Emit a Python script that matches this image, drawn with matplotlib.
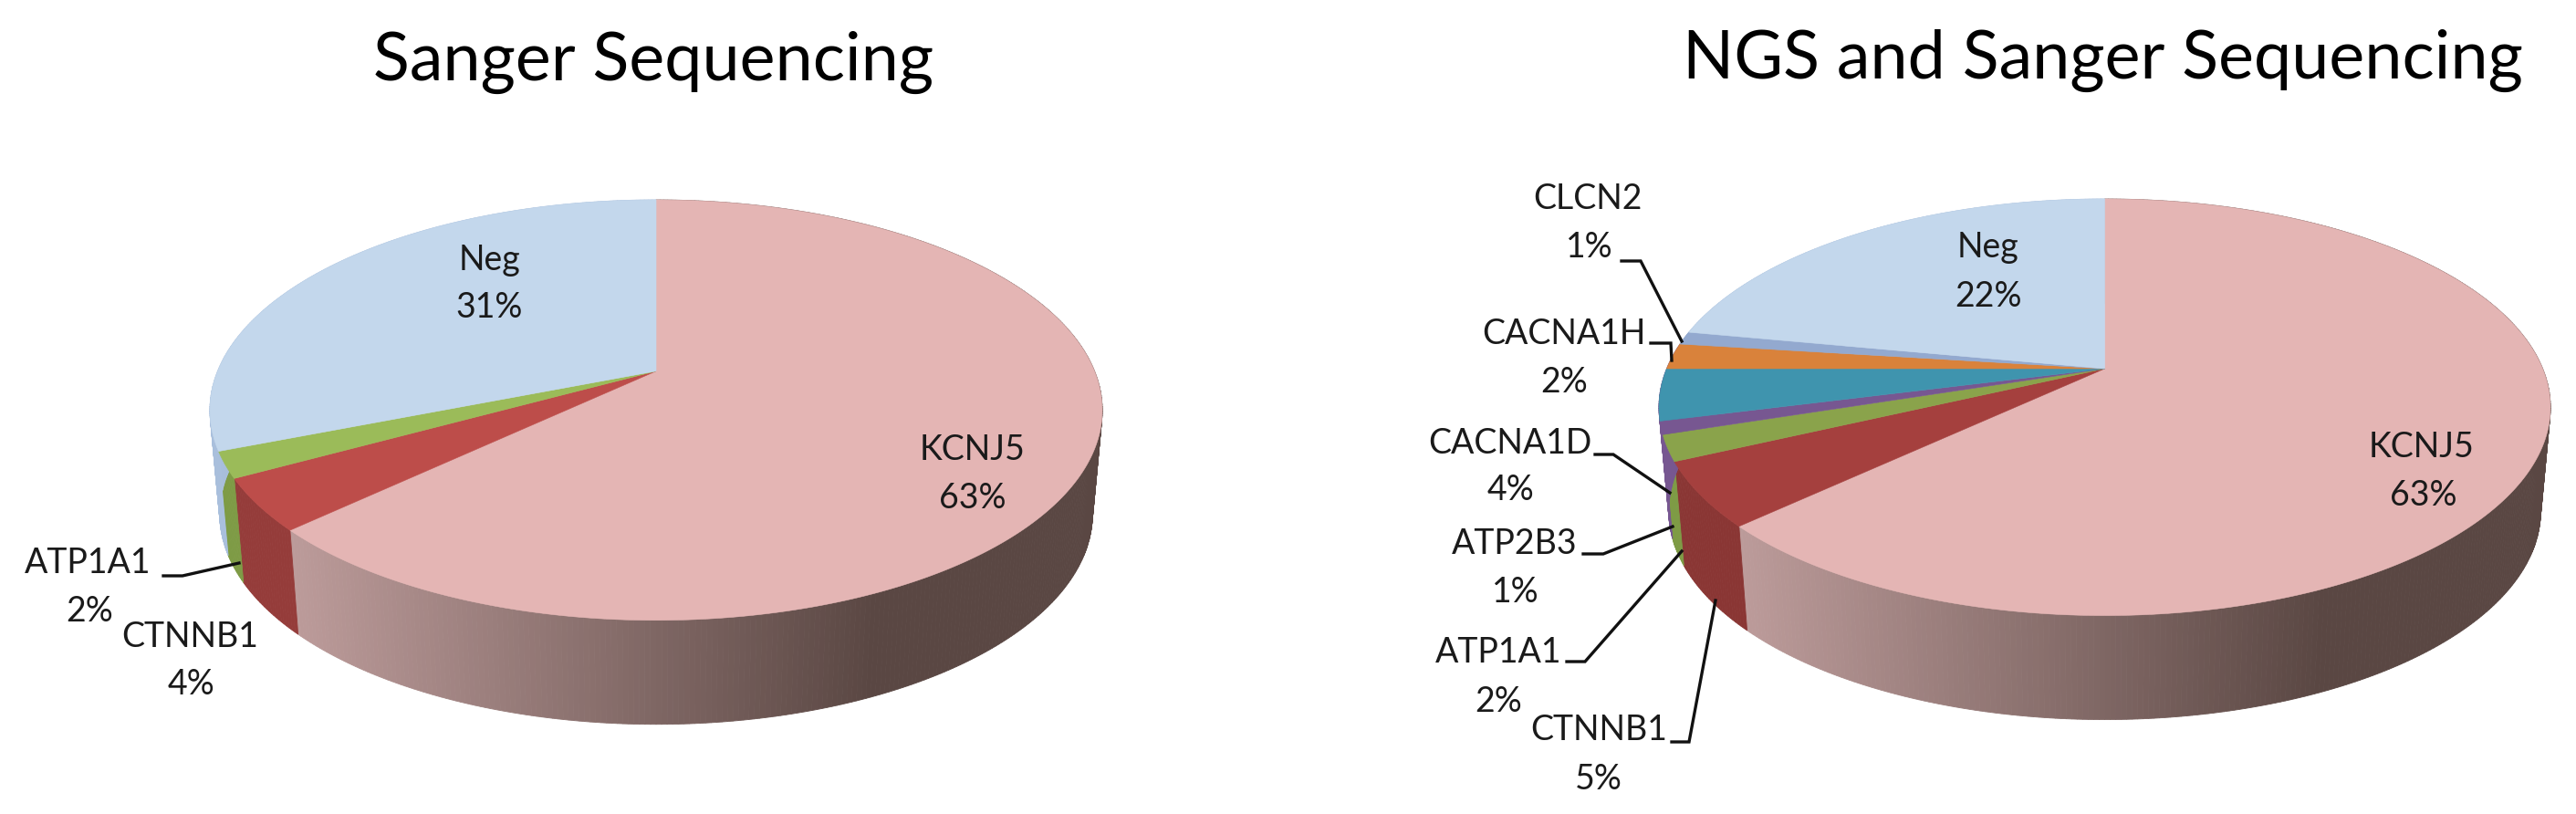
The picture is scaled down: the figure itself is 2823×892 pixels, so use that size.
import numpy as np
import matplotlib
matplotlib.use('Agg')
import matplotlib.pyplot as plt
from matplotlib.colors import to_rgb

plt.rcParams['font.family'] = ['Lato', 'DejaVu Sans']

# ---------- data ----------
left_title = 'Sanger Sequencing'
left_genes = ['KCNJ5', 'CTNNB1', 'ATP1A1', 'Neg']
left_pct = [63, 4, 2, 31]
left_top = ['#E4B5B4', '#BD4D4A', '#9BBB59', '#C3D7EC']
left_side = ['#BC9B9A', '#953C3A', '#7E9B45', '#A9BFDC']

right_title = 'NGS and Sanger Sequencing'
right_genes = ['KCNJ5', 'CTNNB1', 'ATP1A1', 'ATP2B3', 'CACNA1D', 'CACNA1H', 'CLCN2', 'Neg']
right_pct = [63, 5, 2, 1, 4, 2, 1, 22]
right_top = ['#E4B5B4', '#A5403E', '#8AA34B', '#775791', '#3F94AE', '#D9823B', '#93A9CF', '#C3D7EC']
right_side = ['#BC9B9A', '#8A3634', '#7E9B45', '#775791', '#775791', '#775791', '#93A9CF', '#A9BFDC']

# ---------- layout (pixels) ----------
W, H = 2823, 892
K = 0.1852        # perspective of the tilted disc
DEPTH = 114
SHRINK = 0.978    # bottom rim is a bit narrower
DARK = '#5A4743'

left_label_xy = [(1066, 493, 1066, 546), (208, 698, 210, 750), (96, 617, 98, 670), (537, 285, 536, 337)]
right_label_xy = [(2654, 490, 2656, 543), (1752, 800, 1752, 854), (1642, 715, 1642, 769),
                  (1660, 596, 1661, 649), (1655, 486, 1656, 537), (1714, 366, 1714, 419),
                  (1740, 218, 1742, 271), (2178, 271, 2179, 325)]

left_leaders = [[(179, 631), (200, 631), (262, 617)]]
right_leaders = [[(1777, 286), (1798, 286), (1843, 374)],
                 [(1809, 376), (1831, 376), (1832, 395)],
                 [(1748, 498), (1768, 498), (1830, 540)],
                 [(1735, 607), (1757, 607), (1833, 577)],
                 [(1717, 725), (1737, 725), (1843, 604)],
                 [(1832, 813), (1851, 813), (1880, 658)]]


def project(theta, cx, cy, a, b):
    # theta clockwise from 12 o'clock, disc seen in perspective
    u, v = np.sin(theta), np.cos(theta)
    w = 1 + K * v
    return cx + a * u / w, cy - b * v / w


def draw_pie(ax, pct, top, side, cx, cy, semi_x, up):
    a = semi_x * np.sqrt(1 - K ** 2)
    b = up * (1 + K)
    edges = np.radians(np.cumsum([0] + pct) * 3.6)
    x_lo, x_hi = cx - 0.80 * semi_x, cx + 0.48 * semi_x

    # rim first, the top face covers whatever is behind it
    for i in range(len(pct)):
        th = np.linspace(edges[i], edges[i + 1], max(int(pct[i] * 6), 4) + 1)
        x, y = project(th, cx, cy, a, b)
        xb = cx + (x - cx) * SHRINK
        yb = y + DEPTH
        c0, c1 = np.array(to_rgb(side[i])), np.array(to_rgb(DARK))
        for j in range(len(th) - 1):
            if i == 0:
                f = np.clip((0.5 * (xb[j] + xb[j + 1]) - x_lo) / (x_hi - x_lo), 0, 1)
                col = c0 + (c1 - c0) * f
            else:
                col = c0
            ax.fill([x[j], x[j + 1], xb[j + 1], xb[j]], [y[j], y[j + 1], yb[j + 1], yb[j]],
                    color=col, lw=0.6)

    for i in range(len(pct)):
        th = np.linspace(edges[i], edges[i + 1], max(int(pct[i] * 6), 4) + 1)
        x, y = project(th, cx, cy, a, b)
        ax.fill(np.r_[cx, x], np.r_[cy, y], color=top[i], lw=0.4)


def draw_labels(ax, genes, pct, xy):
    for g, p, (x1, y1, x2, y2) in zip(genes, pct, xy):
        ax.text(x1, y1, g, ha='center', va='center', fontsize=27, color='#1a1a1a')
        ax.text(x2, y2, f'{p}%', ha='center', va='center', fontsize=27, color='#1a1a1a')


fig = plt.figure(figsize=(W / 100, H / 100), dpi=100)
ax = fig.add_axes([0, 0, 1, 1])
ax.set_xlim(0, W)
ax.set_ylim(H, 0)
ax.axis('off')

draw_pie(ax, left_pct, left_top, left_side, 719, 406.7, 489, 187.7)
draw_pie(ax, right_pct, right_top, right_side, 2306.5, 404, 488.5, 186)

draw_labels(ax, left_genes, left_pct, left_label_xy)
draw_labels(ax, right_genes, right_pct, right_label_xy)

for pts in left_leaders + right_leaders:
    xs, ys = zip(*pts)
    ax.plot(xs, ys, color='#111111', lw=2.4, solid_joinstyle='miter')

ax.text(716, 88, left_title, ha='center', va='baseline', fontsize=53, color='black')
ax.text(2304, 86, right_title, ha='center', va='baseline', fontsize=53, color='black')

fig.savefig('out.png', dpi=100)
